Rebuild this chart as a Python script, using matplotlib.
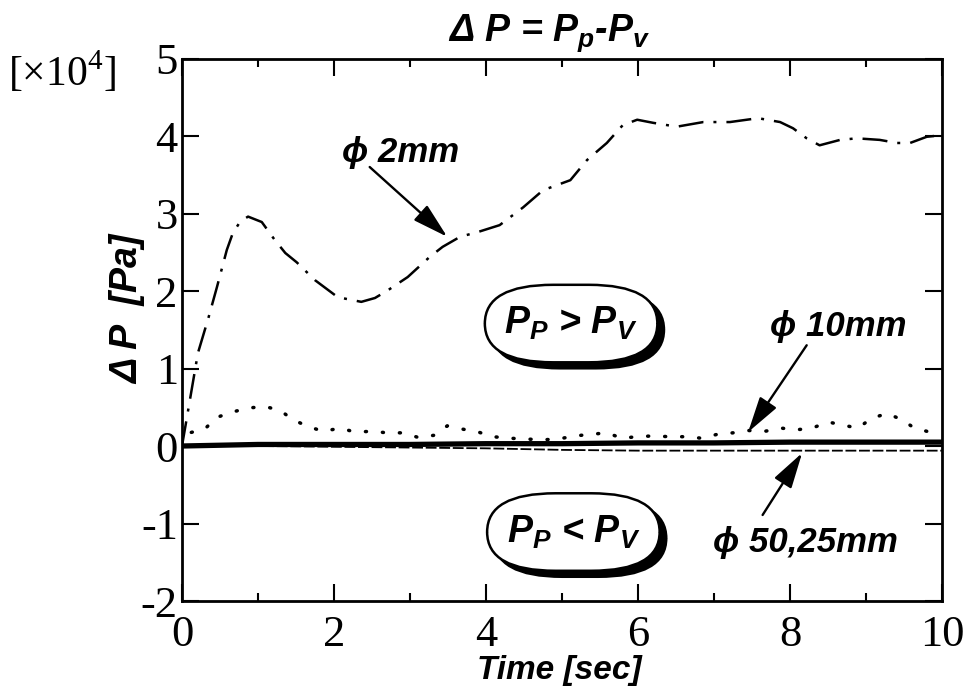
import matplotlib
matplotlib.use("Agg")
import matplotlib.pyplot as plt
from matplotlib.patches import FancyBboxPatch
from matplotlib.ticker import MultipleLocator

plt.rcParams["font.family"] = ["Liberation Serif", "DejaVu Serif"]
plt.rcParams["mathtext.fontset"] = "custom"
plt.rcParams["mathtext.rm"] = "Liberation Serif"
plt.rcParams["mathtext.it"] = "Liberation Sans:bold:italic"
plt.rcParams["mathtext.bf"] = "Liberation Sans:bold"
plt.rcParams["axes.unicode_minus"] = False

# phi 2 mm (dash-dot)
t_2mm = [0, 0.06, 0.21, 0.35, 0.46, 0.59, 0.67, 0.77, 0.87, 1.05, 1.22, 1.36, 1.51, 1.75,
         2.05, 2.36, 2.54, 2.71, 2.97, 3.26, 3.43, 3.66, 3.89, 4.18, 4.49, 4.75, 5.11, 5.33,
         5.59, 5.80, 5.99, 6.2, 6.51, 6.86, 7.21, 7.58, 7.87, 8.04, 8.22, 8.39, 8.66, 8.88,
         9.18, 9.41, 9.58, 9.80, 10.0]
dp_2mm = [0, 0.34, 1.2, 1.66, 2.05, 2.53, 2.75, 2.90, 2.96, 2.89, 2.66, 2.49, 2.37, 2.14,
          1.92, 1.86, 1.91, 2.01, 2.18, 2.44, 2.57, 2.70, 2.76, 2.85, 3.08, 3.30, 3.43, 3.69,
          3.91, 4.14, 4.21, 4.17, 4.12, 4.18, 4.18, 4.23, 4.18, 4.10, 3.97, 3.88, 3.95, 3.97,
          3.95, 3.91, 3.91, 3.99, 4.01]

# phi 10 mm (dotted)
t_10mm = [0, 0.1, 0.3, 0.46, 0.67, 0.87, 1.09, 1.29, 1.46, 1.66, 1.86, 2.08, 2.28, 2.5, 2.7,
          2.91, 3.11, 3.33, 3.49, 3.68, 3.9, 4.09, 4.32, 4.74, 4.95, 5.17, 5.37, 5.59, 5.79,
          5.98, 6.2, 6.42, 6.64, 6.84, 7.04, 7.25, 7.45, 7.67, 7.89, 8.09, 8.29, 8.5, 8.7,
          8.89, 9.08, 9.28, 9.47, 9.64, 9.84, 10.0]
dp_10mm = [0, 0.17, 0.22, 0.37, 0.44, 0.49, 0.51, 0.46, 0.34, 0.25, 0.19, 0.23, 0.18, 0.19,
           0.17, 0.17, 0.11, 0.14, 0.26, 0.22, 0.18, 0.12, 0.10, 0.08, 0.09, 0.13, 0.15, 0.17,
           0.10, 0.12, 0.13, 0.12, 0.12, 0.10, 0.15, 0.17, 0.20, 0.19, 0.23, 0.21, 0.23, 0.31,
           0.27, 0.23, 0.36, 0.42, 0.34, 0.23, 0.18, 0.15]

# phi 25 mm (thin dashed) and phi 50 mm (thick solid)
t_big = [0, 1, 2, 3, 4, 5, 6, 7, 8, 9, 10]
dp_25mm = [0, 0.0, -0.01, -0.02, -0.03, -0.05, -0.06, -0.06, -0.06, -0.06, -0.06]
dp_50mm = [0, 0.02, 0.02, 0.02, 0.03, 0.03, 0.04, 0.04, 0.05, 0.05, 0.05]

x_ticks = [0, 2, 4, 6, 8, 10]
y_ticks = [-2, -1, 0, 1, 2, 3, 4, 5]

SANS = dict(family=["Liberation Sans", "DejaVu Sans"], weight="bold", style="italic")

fig = plt.figure(figsize=(9.7, 6.94), dpi=100)
ax = fig.add_axes([0.1876, 0.134, 0.7835, 0.7817])

ax.plot(t_2mm, dp_2mm, color="black", lw=1.8, ls=(0, (10, 4, 1.2, 4)))
ax.plot(t_10mm, dp_10mm, color="black", lw=2.5, ls=(0, (0.3, 4.6)), dash_capstyle="round")
ax.plot(t_big, dp_25mm, color="black", lw=1.3, ls=(0, (6, 1.5)))
ax.plot(t_big, dp_50mm, color="black", lw=3.8)

ax.set_xlim(0, 10)
ax.set_ylim(-2, 5)
ax.set_xticks(x_ticks)
ax.set_yticks(y_ticks)
ax.xaxis.set_minor_locator(MultipleLocator(1))
ax.tick_params(which="both", direction="in", top=True, right=True, width=1.5,
               labelsize=32)
ax.tick_params(which="major", length=12, pad=3)
ax.tick_params(which="minor", length=6)
ax.tick_params(axis="x", pad=10)
for s in ax.spines.values():
    s.set_linewidth(2)

# pills
pills = [((5.12, 1.58), "P$_P$ > P$_V$"), ((5.15, -1.11), "P$_P$ < P$_V$")]
pill_w, pill_h = 2.27, 1.0
for (cx, cy), txt in pills:
    style = "round,pad=0,rounding_size=0.9"
    shadow = FancyBboxPatch((cx - pill_w / 2 + 0.09, cy - pill_h / 2 - 0.08), pill_w, pill_h,
                            boxstyle=style, mutation_aspect=0.556,
                            fc="black", ec="black", lw=1.5, zorder=4)
    body = FancyBboxPatch((cx - pill_w / 2, cy - pill_h / 2), pill_w, pill_h,
                          boxstyle=style, mutation_aspect=0.556,
                          fc="white", ec="black", lw=1.8, zorder=5)
    ax.add_patch(shadow)
    ax.add_patch(body)
    ax.text(cx, cy, txt, ha="center", va="center", fontsize=27, zorder=6, **SANS)

# labels with arrows
notes = [("ϕ 2mm", (2.88, 3.79), (2.47, 3.6), (3.49, 2.70)),
         ("ϕ 10mm", (8.63, 1.54), (8.22, 1.30), (7.45, 0.18)),
         ("ϕ 50,25mm", (8.21, -1.25), (7.64, -0.89), (8.16, -0.09))]
for txt, pos, start, tip in notes:
    ax.text(pos[0], pos[1], txt, ha="center", va="center", fontsize=25, **SANS)
    ax.annotate("", xy=tip, xytext=start,
                arrowprops=dict(arrowstyle="-|>,head_length=1.0,head_width=0.28",
                                lw=1.7, color="black", shrinkA=0, shrinkB=0,
                                mutation_scale=22))

fig.text(0.566, 1 - 33 / 694, "Δ P = P$_p$-P$_v$", ha="center", va="center", fontsize=27, **SANS)
fig.text(0.132, 0.555, "Δ P  [Pa]", ha="center", va="center", rotation=90, fontsize=27, **SANS)
fig.text(0.577, 1 - 670 / 694, "Time [sec]", ha="center", va="center", fontsize=24, **SANS)
fig.text(0.008, 1 - 72 / 694, "[×10$^4$]", ha="left", va="center", fontsize=30)

fig.savefig("out.png", dpi=100)
